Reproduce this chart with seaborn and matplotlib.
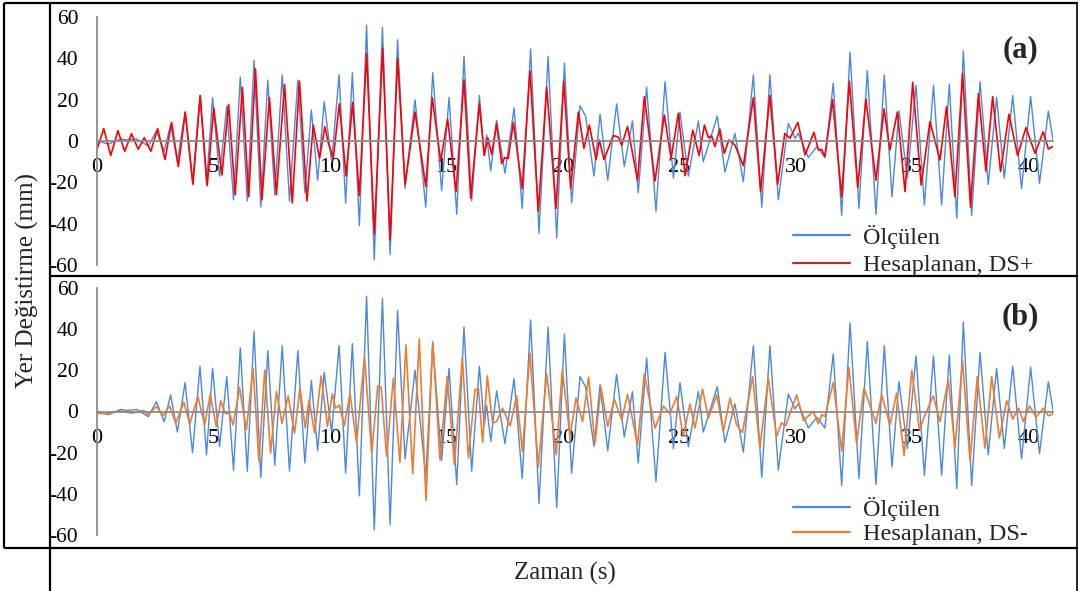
import numpy as np
import pandas as pd
import matplotlib
matplotlib.use("Agg")
import matplotlib.pyplot as plt
import seaborn as sns
from matplotlib.lines import Line2D

# ---------------- data ----------------
# Measured displacement (Ölçülen) – extrema positions (s) and values (mm)
t_meas = [0, 0.5, 1.0, 1.3, 1.7, 2.2, 2.55, 2.88, 3.16, 3.45,
          3.78, 4.1, 4.42, 4.7, 4.96, 5.26, 5.57, 5.86, 6.15, 6.45,
          6.74, 7.03, 7.33, 7.63, 7.95, 8.26, 8.62, 8.92, 9.2, 9.47,
          9.75, 10.07, 10.39, 10.67, 10.96, 11.26, 11.57, 11.9, 12.25, 12.58,
          12.9, 13.22, 13.65, 14.11, 14.41, 14.79, 15.11, 15.44, 15.75, 16.08,
          16.41, 16.62, 16.72, 16.9, 17.15, 17.51, 17.9, 18.25, 18.61, 18.97,
          19.36, 19.73, 20.06, 20.37, 20.73, 20.97, 21.33, 21.59, 21.92, 22.3,
          22.63, 22.98, 23.23, 23.59, 23.99, 24.38, 24.74, 25.02, 25.38, 25.81,
          26.02, 26.62, 26.95, 27.38, 27.74, 28.17, 28.53, 28.88, 29.24, 29.67,
          29.96, 30.1, 30.53, 30.9, 31.24, 31.6, 31.96, 32.32, 32.7, 33.06,
          33.43, 33.79, 34.12, 34.42, 34.78, 35.15, 35.51, 35.9, 36.25, 36.58,
          36.9, 37.18, 37.54, 37.9, 38.25, 38.61, 38.94, 39.3, 39.68, 40.07,
          40.45, 40.83, 41.04]
v_meas = [0, -1.5, 1, 0.5, 1, -2.5, 4.8, -5, 8, -10,
          14, -20, 22, -21, 21, -17, 17, -28.5, 31, -29,
          39, -32, 29.5, -26, 32, -29, 29.5, -25, 15, -19,
          19, -10, 32, -30, 33, -41, 56, -57.5, 55, -55,
          49, -23, 20, -32, 33, -24, 21, -35.5, 41, -29,
          22, -7, 3, -14.5, 10, -15.6, 16, -32.6, 44.5, -44.7,
          41, -46.8, 37.6, -30, 17, 12, -17, 13, -19, 18,
          -12.4, 9.7, -25, 26, -34, 28.7, -18, 14, -17, 9.7,
          -10, 12, -15, 3.7, -19.7, 32, -32, 32, -28.5, 8.5,
          1.3, 3.7, -8, -2.7, -8, 28, -36, 43, -32.6, 34,
          -35.5, 32, -27, 14.5, -18, 27, -31, 27, -31, 27.4,
          -37.4, 43.5, -36, 28.7, -21, 21, -18, 22, -23, 21.5,
          -20.5, 14.5, 0]

# Computed, DS+ (panel a)
t_dsp = [0, 0.29, 0.59, 0.9, 1.19, 1.48, 1.77, 2.03, 2.31, 2.6,
         2.92, 3.2, 3.49, 3.79, 4.12, 4.43, 4.73, 5.01, 5.36, 5.65,
         5.93, 6.24, 6.51, 6.8, 7.08, 7.4, 7.7, 8.05, 8.38, 8.69,
         9.01, 9.28, 9.55, 9.78, 9.93, 10.14, 10.4, 10.69, 10.97, 11.26,
         11.57, 11.9, 12.26, 12.58, 12.9, 13.22, 13.65, 14.11, 14.39, 14.75,
         15.05, 15.41, 15.75, 16.04, 16.41, 16.62, 16.77, 16.94, 17.15, 17.37,
         17.5, 17.65, 17.87, 18.25, 18.58, 18.94, 19.3, 19.7, 20.03, 20.33,
         20.66, 20.9, 21.13, 21.42, 21.56, 21.76, 21.95, 22.16, 22.37, 22.52,
         22.77, 23.2, 23.49, 23.95, 24.35, 24.64, 24.95, 25.24, 25.57, 25.84,
         26.07, 26.24, 26.38, 26.52, 26.73, 26.92, 27.12, 27.38, 27.74, 28.17,
         28.48, 28.88, 29.21, 29.52, 29.74, 30.08, 30.39, 30.77, 30.96, 31.1,
         31.24, 31.57, 31.96, 32.29, 32.65, 33.0, 33.43, 33.78, 34.03, 34.35,
         34.68, 35.01, 35.37, 35.75, 36.18, 36.46, 36.82, 37.15, 37.49, 37.83,
         38.15, 38.44, 38.78, 39.14, 39.51, 39.87, 40.26, 40.61, 40.83, 41.01]
v_dsp = [-4, 6, -7, 5, -5, 3.5, -4, 1.6, -5, 6,
         -9, 9, -12.4, 14, -21, 22, -21.6, 16, -16.5, 17.7,
         -26, 26, -27, 35, -28.5, 21, -26, 27.4, -30, 29,
         -29, 7.7, -8.4, 7, -1, -8.4, 18, -17, 18.7, -26.5,
         42.4, -45, 45, -48, 40, -21, 14, -22, 21, -9.7,
         10.6, -24.5, 29.5, -27.7, 18, -7, 1.6, -6.5, 8.5, -11,
         -8, -8.5, 9, -23, 34, -34, 26, -32.6, 29, -23,
         14, -3.5, 7.7, -9, 0.5, -9, -3.5, 2.6, 2, -2,
         7, -19, 21.5, -19.4, 12.6, -8.4, 13.4, -16.8, 5.3, -7,
         7.7, 1.6, 2.5, -2.7, 5.8, -6, 0.5, -2, -12, 21,
         -24.5, 22, -21, 3.7, 1.3, 9, -6.8, 4.2, -4.4, -4,
         -7.6, 20, -27, 29, -22.6, 20.3, -19, 15.5, -4.4, 14,
         -24.5, 28.4, -21.3, 9.4, -9.2, 16.6, -27, 32.7, -32, 23,
         -14.5, 21.5, -14.8, 13, -7, 6.5, -6, 4.5, -3.9, -2.7]

# Computed, DS- (panel b)
t_dsm = [0, 0.5, 1.0, 1.5, 2.0, 2.19, 2.55, 2.83, 3.12, 3.38,
         3.73, 3.98, 4.33, 4.62, 4.86, 5.12, 5.31, 5.5, 5.69, 5.84,
         6.12, 6.41, 6.7, 6.95, 7.2, 7.45, 7.7, 7.94, 8.2, 8.48,
         8.71, 8.94, 9.1, 9.34, 9.62, 9.89, 10.1, 10.24, 10.4, 10.61,
         10.86, 11.14, 11.48, 11.79, 12.05, 12.2, 12.43, 12.72, 13.0, 13.26,
         13.55, 13.83, 14.12, 14.41, 14.72, 15.03, 15.34, 15.68, 15.94, 16.22,
         16.37, 16.55, 16.75, 16.98, 17.15, 17.41, 17.73, 18.01, 18.26, 18.58,
         18.94, 19.3, 19.71, 19.97, 20.3, 20.56, 20.84, 21.1, 21.37, 21.63,
         21.92, 22.2, 22.52, 22.77, 23.2, 23.49, 23.95, 24.31, 24.59, 24.88,
         25.16, 25.45, 25.66, 25.99, 26.24, 26.6, 26.88, 27.17, 27.45, 27.7,
         28.14, 28.45, 28.81, 29.17, 29.38, 29.55, 30.03, 30.32, 30.74, 30.96,
         31.1, 31.24, 31.6, 31.96, 32.27, 32.6, 32.92, 33.43, 33.68, 34.03,
         34.32, 34.64, 34.97, 35.3, 35.51, 35.89, 36.18, 36.54, 36.82, 37.15,
         37.47, 37.78, 38.11, 38.4, 38.73, 39.04, 39.3, 39.55, 39.76, 40.02,
         40.3, 40.61, 40.83, 41.04]
v_dsm = [-1, -1, 0.3, -0.8, 0.5, -1.6, 2.4, -2, 2.7, -5.7,
         4.5, -6, 7.3, -6.5, 8.4, -7.3, 5.2, -0.8, -1.1, -6.5,
         11.6, -8.9, 21, -24.3, 20.2, -20.2, 9.7, -5.7, 7.6, -10.5,
         11.3, -8.1, 5.7, -10.5, 17.3, -7.3, 8.6, 1.6, 3.2, -7,
         8.6, -15, 26.4, -20.2, 12.5, 11.5, -21.8, 16.2, -24.8, 32.4,
         -30.3, 35.1, -43.2, 34, -23.5, 17, -25.9, 26.4, -22.7, 10.5,
         11.3, -15, 17.3, -5.7, -4.9, 1.6, -7, 7.6, -19.4, 28.3,
         -27, 18.3, -21, 20.2, -12, 6.5, -4.9, 16.7, -15.7, 11.8,
         -7.3, 6, -4, 8.4, -16.2, 18.3, -8.1, 2.7, -1.1, 7.3,
         -12.1, 3.6, -8.1, 10.8, -3.2, 8.1, -9.7, 6.5, -6.5, -10.2,
         17, -17.8, 16.2, -12.1, -5.5, -7, 8.1, -4.4, 0, -6,
         -1.6, -2.4, 14.1, -19.4, 21.5, -15.4, 11.3, -5.7, 8.1, -6.5,
         8.9, -21.5, 19.9, -8.9, -2.4, 7.6, -4.9, 15.4, -17.8, 24.3,
         -24.3, 17, -17.8, 17, -12.9, 5.3, -3.7, 1.6, -4.9, 2.7,
         -2.8, 1.6, -2.1, -1.1]

x_ticks = [0, 5, 10, 15, 20, 25, 30, 35, 40]
y_ticks = [-60, -40, -20, 0, 20, 40, 60]
lbl_meas = "Ölçülen"
lbl_dsp = "Hesaplanan, DS+"
lbl_dsm = "Hesaplanan, DS-"
y_label = "Yer Değistirme (mm)"
x_label = "Zaman (s)"

# ---------------- styling ----------------
sns.set_theme(style="white")
plt.rcParams["font.family"] = ["Liberation Serif", "DejaVu Serif"]

C_MEAS = "#4A89DC"
C_DSP = "#FF0000"
C_DSP_LEG = "#B03030"
C_DSM = "#ED7D31"
C_AXIS = "#8C8C8C"

W, H = 1080, 591
fig = plt.figure(figsize=(W / 100, H / 100), dpi=100)


def fx(px):
    return px / W


def fy(py):
    return 1 - py / H


X0 = 97
PX_PER_S = 23.3
XMAX = 41.05


def make_ax(top_px, bot_px):
    ax = fig.add_axes([fx(X0), fy(bot_px), XMAX * PX_PER_S / W, (bot_px - top_px) / H])
    ax.set_facecolor("none")
    ax.set_xlim(0, XMAX)
    ax.set_ylim(-60, 60)
    for s in ("top", "right"):
        ax.spines[s].set_visible(False)
    ax.spines["bottom"].set_position(("data", 0))
    for s in ("bottom", "left"):
        ax.spines[s].set_color(C_AXIS)
        ax.spines[s].set_linewidth(1.3)
        ax.spines[s].set_zorder(5)
    ax.set_xticks(x_ticks)
    ax.set_xticklabels([str(v) for v in x_ticks])
    ax.set_yticks(y_ticks)
    ax.set_yticklabels([str(v) for v in y_ticks])
    ax.tick_params(axis="x", length=3, width=1, color=C_AXIS, direction="out",
                   pad=9.5, labelsize=16, labelcolor="black")
    ax.tick_params(axis="y", length=0, pad=13.5, labelsize=15.5, labelcolor="black")
    ax.set_xlabel("")
    ax.set_ylabel("")
    ax.grid(False)
    return ax


axa = make_ax(17, 265)
axb = make_ax(288, 535)

df_meas = pd.DataFrame({"t": t_meas, "v": v_meas})
df_dsp = pd.DataFrame({"t": t_dsp, "v": v_dsp})
df_dsm = pd.DataFrame({"t": t_dsm, "v": v_dsm})

for ax, df_c, col in ((axa, df_dsp, C_DSP), (axb, df_dsm, C_DSM)):
    sns.lineplot(data=df_meas, x="t", y="v", ax=ax, color=C_MEAS, lw=1.0,
                 sort=False, estimator=None, zorder=2)
    sns.lineplot(data=df_c, x="t", y="v", ax=ax, color=col, lw=1.2,
                 sort=False, estimator=None, zorder=3)
    ax.set_xlabel("")
    ax.set_ylabel("")

# legends
LEG_FS = 17.5
h_a = [Line2D([], [], color=C_MEAS, lw=1.6), Line2D([], [], color=C_DSP_LEG, lw=1.6)]
h_b = [Line2D([], [], color=C_MEAS, lw=1.6), Line2D([], [], color=C_DSM, lw=1.6)]
la = axa.legend(h_a, [lbl_meas, lbl_dsp], loc="upper left",
                bbox_to_anchor=(fx(793), fy(225)), bbox_transform=fig.transFigure,
                frameon=False, fontsize=LEG_FS, borderpad=0, borderaxespad=0,
                handlelength=2.35, handletextpad=0.53, labelspacing=0.21)
lb = axb.legend(h_b, [lbl_meas, lbl_dsm], loc="upper left",
                bbox_to_anchor=(fx(793), fy(497)), bbox_transform=fig.transFigure,
                frameon=False, fontsize=LEG_FS, borderpad=0, borderaxespad=0,
                handlelength=2.35, handletextpad=0.53, labelspacing=0.09)

# panel tags
fig.text(fx(1020), fy(50), "(a)", fontsize=22, fontweight="bold", ha="center", va="center")
fig.text(fx(1020), fy(317), "(b)", fontsize=22, fontweight="bold", ha="center", va="center")

# axis titles
fig.text(fx(27), fy(281), y_label, rotation=90, fontsize=18, ha="center", va="center")
fig.text(fx(565), fy(573), x_label, fontsize=18, ha="center", va="center")


# frame lines
def hline(y, x1, x2, lw=1.6, c="black"):
    fig.add_artist(Line2D([fx(x1), fx(x2)], [fy(y), fy(y)], transform=fig.transFigure,
                          color=c, lw=lw, solid_capstyle="butt"))


def vline(x, y1, y2, lw=1.6, c="black"):
    fig.add_artist(Line2D([fx(x), fx(x)], [fy(y1), fy(y2)], transform=fig.transFigure,
                          color=c, lw=lw, solid_capstyle="butt"))


hline(3, 4, 1078)
vline(4, 3, 548)
vline(50, 3, 591)
vline(1077, 3, 591, lw=1.2)
hline(275.5, 50, 1078)
hline(547.5, 4, 1078)

fig.savefig("out.png", dpi=100)
